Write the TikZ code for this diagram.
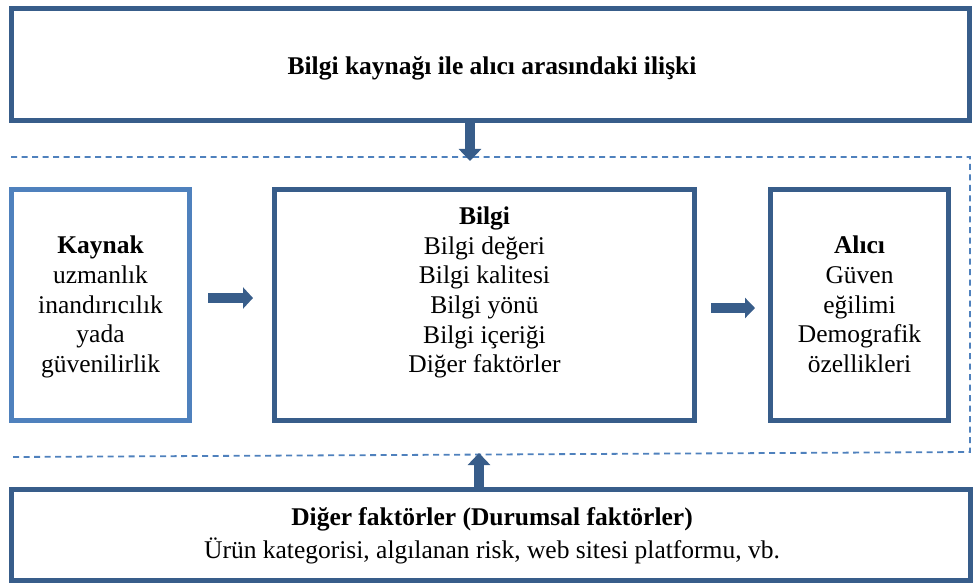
\documentclass[tikz,border=0pt]{standalone}
\usepackage{fontspec}
\setmainfont{Liberation Serif}
\usetikzlibrary{arrows.meta}
\definecolor{frameblue}{RGB}{56,93,138}
\definecolor{lightblue}{RGB}{79,129,189}
\tikzset{
  panel/.style={draw=frameblue, line width=5pt, inner sep=0pt},
  srcpanel/.style={panel, draw=lightblue},
  txt/.style={font=\fontsize{25.5}{29.6}\selectfont, align=center, inner sep=0pt},
  fatarrow/.style={draw=frameblue, line width=10pt, -{Triangle[length=12pt, width=22pt]}},
  frameline/.style={draw=lightblue, line width=1.8pt, dash pattern=on 6pt off 4.5pt},
}
\begin{document}
\begin{tikzpicture}[x=1pt, y=-1pt]
\useasboundingbox (0,0) rectangle (976,585);

% dashed frame around the three middle panels (open on the left)
\coordinate (fTL) at (11,157);
\coordinate (fTR) at (970,157);
\coordinate (fBR) at (970,452);
\coordinate (fBL) at (11,457);
\draw[frameline] (fTL) -- (fTR) -- (fBR) -- (fBL);

% top panel
\node[panel, minimum width=958pt, minimum height=112pt] (rel) at (490.5,64.5) {};
\node[txt] (reltext) at (492,68) {\textbf{Bilgi kaynağı ile alıcı arasındaki ilişki}};

% source
\node[srcpanel, minimum width=178pt, minimum height=231pt] (src) at (100.5,305) {};
\node[txt] (srctext) at (100.5,307) {\textbf{Kaynak}\\uzmanlık\\inandırıcılık\\yada\\güvenilirlik};

% information
\node[panel, minimum width=420pt, minimum height=231pt] (info) at (484.5,305) {};
\node[txt] (infotext) at (484.5,292.6) {\textbf{Bilgi}\\Bilgi değeri\\Bilgi kalitesi\\Bilgi yönü\\Bilgi içeriği\\Diğer faktörler};

% receiver
\node[panel, minimum width=178pt, minimum height=231pt] (recv) at (859.5,305) {};
\node[txt] (recvtext) at (859.5,304.3) {\textbf{Alıcı}\\Güven\\eğilimi\\Demografik\\özellikleri};

% bottom panel
\node[panel, minimum width=959pt, minimum height=91pt] (ctx) at (491,535) {};
\node[txt, font=\fontsize{25.5}{33}\selectfont] (ctxtext) at (492,535.6) {\textbf{Diğer faktörler (Durumsal faktörler)}\\Ürün kategorisi, algılanan risk, web sitesi platformu, vb.};

% arrows
\coordinate (downtip) at (470,161);
\draw[fatarrow] (rel.south -| downtip) -- (downtip);
\coordinate (uptip) at (479,453);
\draw[fatarrow] (ctx.north -| uptip) -- (uptip);

\coordinate (s1) at (208,298);
\coordinate (e1) at (253,298);
\draw[fatarrow, -{Triangle[length=10pt, width=21pt]}] (s1) -- (e1);
\coordinate (s2) at (711,308);
\coordinate (e2) at (755,308);
\draw[fatarrow, -{Triangle[length=10pt, width=20pt]}] (s2) -- (e2);
\end{tikzpicture}
\end{document}
